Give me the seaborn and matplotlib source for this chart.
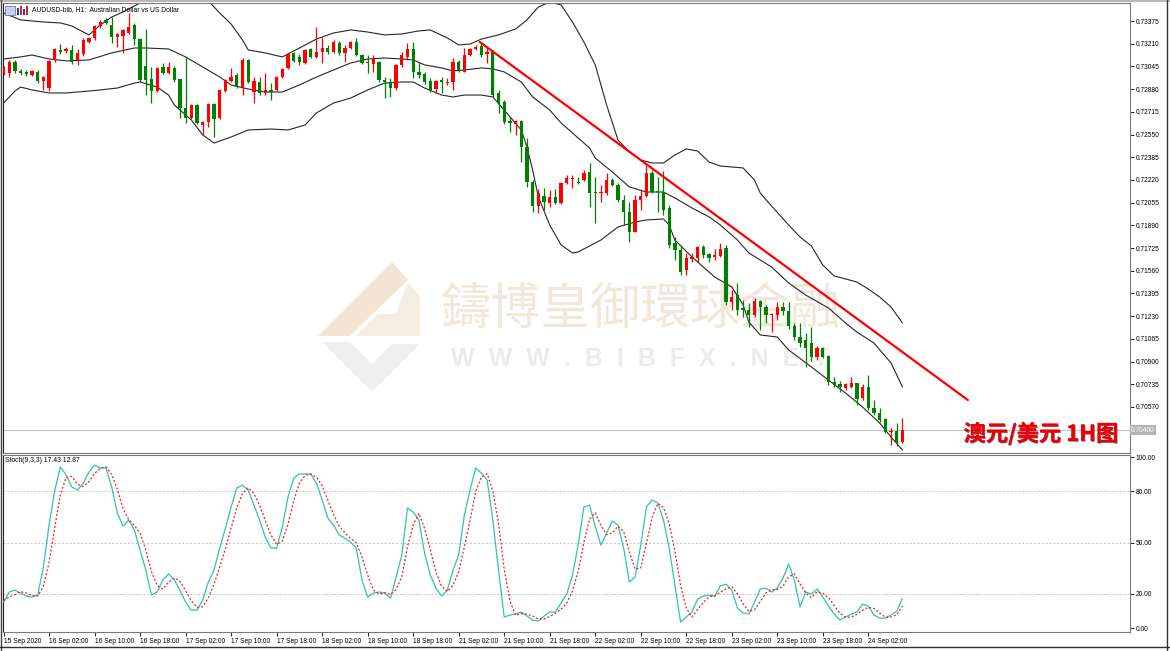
import numpy as np
import pandas as pd
import matplotlib
matplotlib.use("Agg")
import matplotlib.pyplot as plt
import matplotlib.patheffects as pe
from matplotlib.patches import Rectangle, Polygon
from matplotlib.lines import Line2D
import seaborn as sns

# ---------------- data (AUDUSD H1) ----------------
opens = [0.72997, 0.72997, 0.73077, 0.73012, 0.73005, 0.72983, 0.73005, 0.72939, 0.72888, 0.73092,
         0.73165, 0.73157, 0.73165, 0.73092, 0.73135, 0.73223, 0.73252, 0.73339, 0.73383, 0.73346,
         0.73259, 0.73266, 0.73288, 0.73346, 0.73244, 0.73048, 0.72954, 0.72866, 0.73041, 0.72997,
         0.73034, 0.72954, 0.72743, 0.72670, 0.72765, 0.72619, 0.72641, 0.72772, 0.72670, 0.72866,
         0.72939, 0.72983, 0.72895, 0.73092, 0.72859, 0.72932, 0.72852, 0.72874, 0.72874, 0.72968,
         0.73034, 0.73143, 0.73114, 0.73070, 0.73172, 0.73114, 0.73150, 0.73179, 0.73150, 0.73215,
         0.73143, 0.73179, 0.73223, 0.73128, 0.73077, 0.73063, 0.73077, 0.72946, 0.72924, 0.72888,
         0.73056, 0.73114, 0.73172, 0.73005, 0.72990, 0.72939, 0.72881, 0.72946, 0.72924, 0.72932,
         0.73077, 0.73005, 0.73128, 0.73172, 0.73194, 0.73135, 0.73150, 0.72852, 0.72787, 0.72648,
         0.72627, 0.72648, 0.72459, 0.72205, 0.72030, 0.72103, 0.72052, 0.72096, 0.72052, 0.72198,
         0.72227, 0.72205, 0.72219, 0.72278, 0.72132, 0.72125, 0.72125, 0.72219, 0.72183, 0.72074,
         0.71987, 0.71841, 0.72074, 0.72103, 0.72270, 0.72139, 0.72132, 0.72016, 0.71761, 0.71711,
         0.71565, 0.71645, 0.71652, 0.71732, 0.71681, 0.71660, 0.71667, 0.71725, 0.71332, 0.71383,
         0.71289, 0.71274, 0.71238, 0.71340, 0.71296, 0.71238, 0.71238, 0.71296, 0.71267, 0.71158,
         0.71078, 0.71056, 0.71034, 0.70933, 0.70998, 0.70940, 0.70751, 0.70736, 0.70707, 0.70715,
         0.70744, 0.70635, 0.70715, 0.70562, 0.70526, 0.70482, 0.70387, 0.70395, 0.70315]
highs = [0.73048, 0.73092, 0.73092, 0.73027, 0.73019, 0.73019, 0.73019, 0.72976, 0.73092, 0.73179,
         0.73208, 0.73186, 0.73201, 0.73172, 0.73252, 0.73259, 0.73346, 0.73383, 0.73397, 0.73404,
         0.73288, 0.73317, 0.73433, 0.73361, 0.73252, 0.73317, 0.73041, 0.73041, 0.73070, 0.73077,
         0.73048, 0.72954, 0.73106, 0.72772, 0.72772, 0.72648, 0.72779, 0.72779, 0.72881, 0.72954,
         0.73034, 0.72997, 0.73106, 0.73099, 0.72968, 0.72968, 0.72997, 0.72924, 0.72976, 0.73034,
         0.73143, 0.73150, 0.73135, 0.73172, 0.73179, 0.73332, 0.73259, 0.73201, 0.73237, 0.73230,
         0.73201, 0.73230, 0.73252, 0.73135, 0.73128, 0.73128, 0.73085, 0.72968, 0.72961, 0.73063,
         0.73150, 0.73215, 0.73223, 0.73077, 0.73005, 0.72961, 0.72946, 0.72968, 0.72961, 0.73106,
         0.73092, 0.73179, 0.73179, 0.73201, 0.73223, 0.73179, 0.73165, 0.72874, 0.72801, 0.72677,
         0.72656, 0.72656, 0.72525, 0.72219, 0.72154, 0.72161, 0.72147, 0.72154, 0.72205, 0.72256,
         0.72256, 0.72241, 0.72292, 0.72343, 0.72241, 0.72183, 0.72270, 0.72234, 0.72198, 0.72110,
         0.72059, 0.72110, 0.72147, 0.72328, 0.72292, 0.72241, 0.72285, 0.72038, 0.71805, 0.71747,
         0.71689, 0.71689, 0.71740, 0.71747, 0.71689, 0.71718, 0.71761, 0.71747, 0.71420, 0.71471,
         0.71347, 0.71325, 0.71361, 0.71347, 0.71311, 0.71252, 0.71332, 0.71332, 0.71332, 0.71180,
         0.71180, 0.71107, 0.71151, 0.71013, 0.71005, 0.70947, 0.70787, 0.70758, 0.70744, 0.70787,
         0.70744, 0.70736, 0.70802, 0.70620, 0.70562, 0.70489, 0.70416, 0.70453, 0.70489]
lows = [0.72983, 0.72968, 0.72997, 0.72983, 0.72976, 0.72976, 0.72924, 0.72874, 0.72866, 0.73077,
        0.73135, 0.73143, 0.73063, 0.73056, 0.73121, 0.73215, 0.73237, 0.73324, 0.73353, 0.73215,
        0.73186, 0.73143, 0.73281, 0.73201, 0.72932, 0.72837, 0.72779, 0.72859, 0.72990, 0.72990,
        0.72932, 0.72670, 0.72634, 0.72663, 0.72627, 0.72547, 0.72605, 0.72532, 0.72663, 0.72859,
        0.72932, 0.72888, 0.72837, 0.72924, 0.72779, 0.72837, 0.72837, 0.72801, 0.72866, 0.72961,
        0.73027, 0.73077, 0.73056, 0.73063, 0.73106, 0.73106, 0.73070, 0.73135, 0.73143, 0.73128,
        0.73077, 0.73172, 0.73121, 0.73063, 0.72997, 0.73005, 0.72932, 0.72815, 0.72823, 0.72874,
        0.73041, 0.73099, 0.72961, 0.72961, 0.72917, 0.72859, 0.72852, 0.72852, 0.72910, 0.72874,
        0.73005, 0.73005, 0.73121, 0.73165, 0.73114, 0.73070, 0.72823, 0.72707, 0.72627, 0.72568,
        0.72547, 0.72350, 0.72169, 0.71987, 0.71980, 0.72001, 0.72023, 0.72045, 0.72045, 0.72190,
        0.72161, 0.72190, 0.72212, 0.72023, 0.71907, 0.72059, 0.72110, 0.72176, 0.72059, 0.71892,
        0.71769, 0.71841, 0.72001, 0.72096, 0.72125, 0.71987, 0.71965, 0.71725, 0.71638, 0.71529,
        0.71529, 0.71623, 0.71623, 0.71652, 0.71623, 0.71638, 0.71660, 0.71311, 0.71274, 0.71238,
        0.71223, 0.71151, 0.71223, 0.71129, 0.71180, 0.71114, 0.71202, 0.71238, 0.71136, 0.71056,
        0.71005, 0.70860, 0.70904, 0.70911, 0.70925, 0.70729, 0.70715, 0.70678, 0.70693, 0.70707,
        0.70584, 0.70620, 0.70547, 0.70511, 0.70460, 0.70380, 0.70293, 0.70286, 0.70307]
closes = [0.73034, 0.73077, 0.73012, 0.72997, 0.72990, 0.73012, 0.72939, 0.72968, 0.73085, 0.73172,
          0.73150, 0.73172, 0.73077, 0.73143, 0.73237, 0.73252, 0.73339, 0.73368, 0.73361, 0.73259,
          0.73281, 0.73310, 0.73332, 0.73244, 0.72946, 0.72946, 0.72866, 0.73034, 0.72997, 0.73041,
          0.72946, 0.72743, 0.72670, 0.72765, 0.72634, 0.72641, 0.72772, 0.72663, 0.72874, 0.72946,
          0.72968, 0.72895, 0.73092, 0.72932, 0.72939, 0.72852, 0.72874, 0.72859, 0.72968, 0.73027,
          0.73135, 0.73085, 0.73077, 0.73165, 0.73114, 0.73150, 0.73179, 0.73150, 0.73223, 0.73143,
          0.73179, 0.73223, 0.73128, 0.73070, 0.73070, 0.73099, 0.72946, 0.72932, 0.72888, 0.73056,
          0.73128, 0.73172, 0.73005, 0.72983, 0.72932, 0.72874, 0.72939, 0.72932, 0.72932, 0.73077,
          0.73019, 0.73128, 0.73172, 0.73186, 0.73128, 0.73150, 0.72837, 0.72779, 0.72641, 0.72634,
          0.72648, 0.72459, 0.72205, 0.72030, 0.72125, 0.72059, 0.72096, 0.72052, 0.72198, 0.72234,
          0.72234, 0.72198, 0.72270, 0.72125, 0.72125, 0.72132, 0.72219, 0.72183, 0.72074, 0.71987,
          0.71841, 0.72074, 0.72103, 0.72270, 0.72132, 0.72132, 0.72001, 0.71747, 0.71711, 0.71551,
          0.71652, 0.71660, 0.71732, 0.71674, 0.71652, 0.71674, 0.71718, 0.71332, 0.71369, 0.71274,
          0.71274, 0.71238, 0.71340, 0.71296, 0.71238, 0.71245, 0.71296, 0.71267, 0.71158, 0.71078,
          0.71034, 0.70998, 0.70933, 0.70998, 0.70933, 0.70751, 0.70729, 0.70715, 0.70736, 0.70744,
          0.70627, 0.70715, 0.70562, 0.70526, 0.70475, 0.70387, 0.70395, 0.70315, 0.70400]

# Bollinger bands (20, 2) at the listed bars
upper_bars = [0, 3, 7, 10, 12, 15, 17, 19, 21, 24, 27, 30, 33, 36, 38, 40, 42, 43, 46, 49,
              51, 55, 58, 61, 64, 67, 70, 73, 75, 78, 80, 82, 84, 87, 90, 92, 94, 96, 98, 100,
              102, 104, 106, 108, 110, 112, 114, 116, 118, 120, 122, 124, 126, 128, 130, 132, 133, 135, 138, 140,
              142, 144, 146, 148, 150, 152, 154, 156, 158]
upper_band = [0.73433, 0.73383, 0.73368, 0.73361, 0.73339, 0.73274, 0.73346, 0.73404, 0.73441, 0.73506,
              0.73564, 0.73601, 0.73586, 0.73521, 0.73433, 0.73353, 0.73237, 0.73165, 0.73143, 0.73114,
              0.73157, 0.73244, 0.73288, 0.73310, 0.73295, 0.73274, 0.73281, 0.73303, 0.73310, 0.73252,
              0.73201, 0.73208, 0.73244, 0.73274, 0.73317, 0.73383, 0.73477, 0.73513, 0.73492, 0.73368,
              0.73223, 0.73056, 0.72765, 0.72510, 0.72423, 0.72365, 0.72343, 0.72343, 0.72401, 0.72445,
              0.72430, 0.72350, 0.72321, 0.72314, 0.72307, 0.72219, 0.72125, 0.72030, 0.71892, 0.71805,
              0.71740, 0.71601, 0.71522, 0.71500, 0.71478, 0.71427, 0.71369, 0.71296, 0.71180]
middle_bars = [0, 3, 5, 8, 11, 15, 19, 23, 25, 29, 32, 35, 38, 40, 43, 46, 49, 52, 55, 58,
               61, 64, 67, 70, 72, 74, 77, 79, 81, 84, 86, 88, 91, 93, 96, 98, 100, 103, 104, 107,
               110, 113, 116, 118, 121, 124, 126, 129, 131, 135, 138, 141, 145, 148, 150, 153, 156, 158]
middle_band = [0.73099, 0.73114, 0.73128, 0.73099, 0.73085, 0.73092, 0.73143, 0.73179, 0.73179, 0.73172,
               0.73114, 0.73041, 0.72968, 0.72910, 0.72881, 0.72859, 0.72859, 0.72910, 0.72968, 0.73019,
               0.73070, 0.73099, 0.73106, 0.73099, 0.73092, 0.73056, 0.73034, 0.73012, 0.73019, 0.73034,
               0.73027, 0.73005, 0.72932, 0.72823, 0.72728, 0.72634, 0.72561, 0.72452, 0.72379, 0.72278,
               0.72169, 0.72132, 0.72132, 0.72089, 0.72016, 0.71952, 0.71892, 0.71783, 0.71689, 0.71587,
               0.71471, 0.71383, 0.71289, 0.71180, 0.71114, 0.71034, 0.70889, 0.70715]
lower_bars = [0, 2, 3, 5, 8, 11, 15, 17, 20, 23, 24, 27, 29, 30, 33, 35, 37, 40, 43, 47,
              50, 53, 55, 58, 61, 64, 67, 70, 72, 74, 77, 79, 81, 84, 86, 88, 91, 92, 93, 94,
              96, 98, 100, 101, 105, 108, 111, 113, 116, 117, 118, 121, 125, 128, 130, 131, 133, 136, 138, 142,
              145, 148, 151, 154, 156, 158]
lower_band = [0.72779, 0.72866, 0.72895, 0.72874, 0.72852, 0.72852, 0.72866, 0.72874, 0.72888, 0.72924,
              0.72932, 0.72895, 0.72837, 0.72765, 0.72656, 0.72547, 0.72488, 0.72532, 0.72583, 0.72590,
              0.72583, 0.72619, 0.72707, 0.72779, 0.72815, 0.72874, 0.72924, 0.72932, 0.72932, 0.72888,
              0.72837, 0.72823, 0.72837, 0.72837, 0.72823, 0.72728, 0.72583, 0.72459, 0.72292, 0.72096,
              0.71892, 0.71747, 0.71689, 0.71696, 0.71783, 0.71878, 0.71914, 0.71929, 0.71936, 0.71892,
              0.71783, 0.71660, 0.71514, 0.71442, 0.71311, 0.71187, 0.71093, 0.71078, 0.70984, 0.70860,
              0.70765, 0.70671, 0.70569, 0.70453, 0.70351, 0.70257]

# Stochastic (9,3,3)
stoch_k = [15.2, 21.1, 22.2, 20.5, 18.7, 18.1, 19.3, 35.7, 60.2, 80.7,
           94.2, 89.5, 82.5, 80.7, 84.8, 91.2, 95.3, 93.6, 93.6, 82.5,
           67.3, 59.6, 63.2, 57.3, 45.6, 33.9, 19.3, 21.1, 28.1, 31.6,
           28.1, 22.2, 15.2, 10.5, 10.5, 16.4, 26.9, 33.9, 46.8, 58.5,
           70.8, 81.9, 83.6, 80.7, 71.9, 63.2, 53.2, 46.8, 46.8, 59.1,
           76.6, 87.7, 90.1, 90.1, 90.1, 84.8, 74.9, 64.3, 60.2, 54.4,
           52.6, 50.3, 46.8, 28.1, 18.1, 20.5, 21.1, 20.5, 17.5, 29.8,
           42.7, 70.2, 67.8, 63.2, 43.9, 31.0, 23.4, 18.7, 22.2, 33.9,
           42.7, 66.1, 80.7, 93.6, 90.6, 86.5, 63.2, 33.9, 6.4, 7.6,
           8.2, 9.4, 7.0, 4.7, 4.1, 7.0, 9.4, 9.4, 14.6, 19.9,
           31.0, 48.5, 70.8, 71.9, 59.6, 48.5, 55.6, 62.6, 60.2, 46.8,
           26.9, 29.8, 48.5, 70.8, 74.9, 73.1, 63.2, 46.8, 25.1, 3.5,
           6.4, 9.4, 17.0, 18.7, 19.3, 18.7, 24.6, 25.7, 22.2, 11.7,
           8.8, 8.2, 15.2, 22.8, 23.4, 21.1, 23.4, 29.2, 37.4, 28.1,
           12.3, 21.1, 19.9, 22.8, 18.1, 12.9, 8.2, 4.7, 6.4, 8.2,
           9.4, 14.0, 12.9, 7.6, 5.8, 5.8, 7.6, 9.9, 17.43]
stoch_d = [16.0, 18.2, 19.5, 21.3, 20.5, 19.1, 18.7, 24.4, 38.4, 58.9,
           78.4, 88.1, 88.7, 84.2, 82.7, 85.6, 90.4, 93.4, 94.2, 89.9,
           81.1, 69.8, 63.4, 60.0, 55.4, 45.6, 32.9, 24.8, 22.8, 26.9,
           29.3, 27.3, 21.8, 16.0, 12.1, 12.5, 17.9, 25.7, 35.9, 46.4,
           58.7, 70.4, 78.8, 82.1, 78.7, 71.9, 62.8, 54.4, 48.9, 50.9,
           60.8, 74.5, 84.8, 89.3, 90.1, 88.3, 83.3, 74.7, 66.5, 59.6,
           55.7, 52.4, 49.9, 41.7, 31.0, 22.2, 19.9, 20.7, 19.7, 22.6,
           30.0, 47.6, 60.2, 67.1, 58.3, 46.0, 32.8, 24.4, 21.4, 24.9,
           32.9, 47.6, 63.2, 80.1, 88.3, 90.2, 80.1, 61.2, 34.5, 16.0,
           7.4, 8.4, 8.2, 7.0, 5.3, 5.3, 6.8, 8.6, 11.1, 14.6,
           21.8, 33.1, 50.1, 63.7, 67.4, 60.0, 54.6, 55.6, 59.5, 56.5,
           44.6, 34.5, 35.1, 49.7, 64.7, 72.9, 70.4, 61.0, 45.0, 25.1,
           11.7, 6.4, 10.9, 15.0, 18.3, 18.9, 20.9, 23.0, 24.2, 19.9,
           14.2, 9.6, 10.7, 15.4, 20.5, 22.4, 22.6, 24.6, 30.0, 31.6,
           25.9, 20.5, 17.8, 21.3, 20.3, 17.9, 13.1, 8.6, 6.4, 6.4,
           8.0, 10.5, 12.1, 11.5, 8.8, 6.4, 6.4, 7.8, 12.87]

date_labels = ['15 Sep 2020', '16 Sep 02:00', '16 Sep 10:00', '16 Sep 18:00', '17 Sep 02:00',
               '17 Sep 10:00', '17 Sep 18:00', '18 Sep 02:00', '18 Sep 10:00', '18 Sep 18:00',
               '21 Sep 02:00', '21 Sep 10:00', '21 Sep 18:00', '22 Sep 02:00', '22 Sep 10:00',
               '22 Sep 18:00', '23 Sep 02:00', '23 Sep 10:00', '23 Sep 18:00', '24 Sep 02:00']
price_ticks = [0.70570, 0.70735, 0.70900, 0.71065, 0.71230, 0.71395, 0.71560, 0.71725, 0.71890,
               0.72055, 0.72220, 0.72385, 0.72550, 0.72715, 0.72880, 0.73045, 0.73210, 0.73375]
stoch_levels = [0, 20, 50, 80, 100]
current_price = 0.70400
trend_bars = [83.7, 169.5]
trend_prices = [0.73223, 0.70620]

# ---------------- figure ----------------
sns.set_theme(style="white")
plt.rcParams['font.family'] = ['Liberation Sans', 'DejaVu Sans']

W, H = 1170, 651
fig = plt.figure(figsize=(W / 100, H / 100), dpi=100, facecolor='white')


def fx(px):
    return px / W


def fy(py):
    return 1 - py / H


ax = fig.add_axes([fx(3), fy(453), fx(1130) - fx(3), fy(3) - fy(453)])
ax2 = fig.add_axes([fx(3), fy(632), fx(1130) - fx(3), fy(455) - fy(632)])

# candles
df = pd.DataFrame({'open': opens, 'high': highs, 'low': lows, 'close': closes})
df['bar'] = np.arange(len(df))
up = (df['close'] >= df['open']).to_numpy()
cols = np.where(up, '#ff0000', '#008000')
ax.vlines(df['bar'], df['low'], df['high'], colors=cols, lw=0.9, zorder=3)
body_bottom = np.minimum(df['open'], df['close'])
body_h = np.maximum((df['close'] - df['open']).abs(), 0.00005)
ax.bar(df['bar'], body_h, bottom=body_bottom, width=0.58, color=cols, lw=0, zorder=4)

# bands
for bars_, vals_ in [(upper_bars, upper_band), (middle_bars, middle_band), (lower_bars, lower_band)]:
    sns.lineplot(x=bars_, y=vals_, ax=ax, color='#262626', lw=0.8, zorder=2)

# trend line
sns.lineplot(x=trend_bars, y=trend_prices, ax=ax, color='#ff0000', lw=1.6, zorder=5)

# current price line
ax.axhline(current_price, color='#c4c4c4', lw=0.8, zorder=1)
ax.text(1.001, current_price, f'{current_price:.5f}', transform=ax.get_yaxis_transform(),
        ha='left', va='center', fontsize=4.8, color='white', clip_on=False, zorder=10,
        bbox=dict(boxstyle='square,pad=0.2', fc='#b4b4b4', ec='none'))

# watermark
ax.text((641 - 3) / 1127, 1 - (310 - 3) / 450, '鑄博皇御環球金融', transform=ax.transAxes,
        ha='center', va='center', fontsize=36, color='#f3e7da',
        family=['Noto Sans CJK TC', 'DejaVu Sans'], zorder=0)
ax.text((640 - 3) / 1127, 1 - (359 - 3) / 450, 'W  W  W  .  B  I  B  F  X  .  N  E  T',
        transform=ax.transAxes, ha='center', va='center', fontsize=18, fontweight='bold',
        color='#ebebeb', zorder=0)


def logo_pts(pts):
    return [((x - 3) / 1127, 1 - (y - 3) / 450) for x, y in pts]


ax.add_patch(Polygon(logo_pts([(392, 262), (318, 336), (350, 336), (408, 280)]),
                     closed=True, transform=ax.transAxes, fc='#f3e5d4', ec='none', zorder=0))
ax.add_patch(Polygon(logo_pts([(408, 282), (420, 296), (420, 336), (356, 336), (378, 314), (396, 314)]),
                     closed=True, transform=ax.transAxes, fc='#f6ede2', ec='none', zorder=0))
ax.add_patch(Polygon(logo_pts([(322, 342), (372, 392), (420, 344), (392, 344), (372, 364), (350, 342)]),
                     closed=True, transform=ax.transAxes, fc='#efefef', ec='none', zorder=0))

# title and labels
ax.text((32 - 3) / 1127, 1 - (10 - 3) / 450, 'AUDUSD-bib, H1:  Australian Dollar vs US Dollar',
        transform=ax.transAxes, ha='left', va='center', fontsize=4.9, color='black', zorder=6)
ax.add_patch(Rectangle(((5 - 3) / 1127, 1 - (15 - 3) / 450), 10 / 1127, 9 / 450,
                       transform=ax.transAxes, fc='#c9d0e8', ec='#5a6aa8', lw=0.5, zorder=6))
for k, (c, h) in enumerate([('#2040c0', 7), ('#e02020', 9), ('#2040c0', 6), ('#e02020', 9)]):
    ax.add_patch(Rectangle(((17 + 3 * k - 3) / 1127, 1 - (15 - 3) / 450), 2 / 1127, h / 450,
                           transform=ax.transAxes, fc=c, ec='none', zorder=6))

ax.text((1041 - 3) / 1127, 1 - (434 - 3) / 450, '澳元/美元 1H图', transform=ax.transAxes,
        ha='center', va='center', fontsize=16, fontweight='bold', color='#ee0000',
        family=['Noto Sans CJK SC', 'DejaVu Sans'], zorder=8,
        path_effects=[pe.withSimplePatchShadow(offset=(0.6, -0.6), shadow_rgbFace='#202060', alpha=0.6),
                      pe.Normal()])

# stochastic
st = pd.DataFrame({'bar': np.arange(len(stoch_k)), 'k': stoch_k, 'd': stoch_d})
for v in [20, 50, 80]:
    ax2.axhline(v, color='#c4c4c4', lw=0.7, ls=(0, (2, 2)), zorder=0)
sns.lineplot(data=st, x='bar', y='k', ax=ax2, color='#2ec4b0', lw=0.9, zorder=3)
sns.lineplot(data=st, x='bar', y='d', ax=ax2, color='#ff1a1a', lw=0.9, linestyle=(0, (1.6, 1.6)), zorder=4)
ax2.text((5 - 3) / 1127, 1 - (460 - 455) / 177, 'Stoch(9,3,3) 17.43 12.87', transform=ax2.transAxes,
         ha='left', va='center', fontsize=4.9, color='black')

# axes formatting
for a in (ax, ax2):
    a.set_xlim(-0.1, 198)
    a.set_xlabel('')
    a.set_ylabel('')
    a.yaxis.tick_right()
    a.tick_params(axis='y', which='both', right=True, left=False, direction='out', length=3,
                  width=0.6, colors='black', labelsize=4.8, pad=1)
    for s in a.spines.values():
        s.set_color('#7a7a7a')
        s.set_linewidth(0.8)
    a.spines['left'].set_color('#202020')

ax.set_ylim(0.70235, 0.73506)
ax.set_yticks(price_ticks)
ax.set_yticklabels([f'{v:.5f}' for v in price_ticks])
ax.set_xticks([])

ax2.set_ylim(-2.3, 101.2)
ax2.set_yticks(stoch_levels)
ax2.set_yticklabels([f'{v:.2f}' for v in stoch_levels])
ax2.set_xticks(np.arange(0, 8 * len(date_labels), 8))
ax2.set_xticklabels(date_labels, ha='left')
ax2.tick_params(axis='x', bottom=True, direction='out', length=3, width=0.6, pad=1,
                labelsize=4.8, colors='black')

# window frame
fig.add_artist(Rectangle((0, fy(2)), 1, 2 / H, transform=fig.transFigure, fc='#b8b8b8', ec='none'))
fig.add_artist(Line2D([fx(0.5), fx(0.5)], [0, 1], transform=fig.transFigure, color='#404040', lw=1))
fig.add_artist(Line2D([fx(1167), fx(1167)], [0, 1], transform=fig.transFigure, color='#303030', lw=1))
fig.add_artist(Line2D([0, 1], [fy(647), fy(647)], transform=fig.transFigure, color='#303030', lw=1))

fig.savefig('out.png', dpi=100, facecolor='white')
